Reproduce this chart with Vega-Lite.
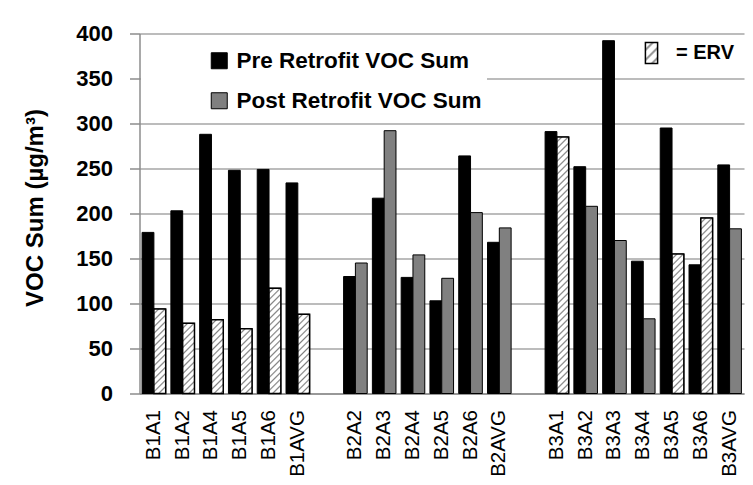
{
  "$schema": "https://vega.github.io/schema/vega-lite/v6.json",
  "width": 604.5,
  "height": 360,
  "autosize": {"type": "none"},
  "padding": {"left": 139.5, "top": 33.5, "right": 9, "bottom": 91.5},
  "background": "white",
  "params": [
    {"name": "hstops", "value": [
      {"offset":0,"color":"#fff"},
      {"offset":0.01,"color":"#fff"},{"offset":0.015,"color":"#808080"},{"offset":0.02,"color":"#fff"},
      {"offset":0.03,"color":"#fff"},{"offset":0.035,"color":"#808080"},{"offset":0.04,"color":"#fff"},
      {"offset":0.05,"color":"#fff"},{"offset":0.055,"color":"#808080"},{"offset":0.06,"color":"#fff"},
      {"offset":0.07,"color":"#fff"},{"offset":0.075,"color":"#808080"},{"offset":0.08,"color":"#fff"},
      {"offset":0.09,"color":"#fff"},{"offset":0.095,"color":"#808080"},{"offset":0.1,"color":"#fff"},
      {"offset":0.11,"color":"#fff"},{"offset":0.115,"color":"#808080"},{"offset":0.12,"color":"#fff"},
      {"offset":0.13,"color":"#fff"},{"offset":0.135,"color":"#808080"},{"offset":0.14,"color":"#fff"},
      {"offset":0.15,"color":"#fff"},{"offset":0.155,"color":"#808080"},{"offset":0.16,"color":"#fff"},
      {"offset":0.17,"color":"#fff"},{"offset":0.175,"color":"#808080"},{"offset":0.18,"color":"#fff"},
      {"offset":0.19,"color":"#fff"},{"offset":0.195,"color":"#808080"},{"offset":0.2,"color":"#fff"},
      {"offset":0.21,"color":"#fff"},{"offset":0.215,"color":"#808080"},{"offset":0.22,"color":"#fff"},
      {"offset":0.23,"color":"#fff"},{"offset":0.235,"color":"#808080"},{"offset":0.24,"color":"#fff"},
      {"offset":0.25,"color":"#fff"},{"offset":0.255,"color":"#808080"},{"offset":0.26,"color":"#fff"},
      {"offset":0.27,"color":"#fff"},{"offset":0.275,"color":"#808080"},{"offset":0.28,"color":"#fff"},
      {"offset":0.29,"color":"#fff"},{"offset":0.295,"color":"#808080"},{"offset":0.3,"color":"#fff"},
      {"offset":0.31,"color":"#fff"},{"offset":0.315,"color":"#808080"},{"offset":0.32,"color":"#fff"},
      {"offset":0.33,"color":"#fff"},{"offset":0.335,"color":"#808080"},{"offset":0.34,"color":"#fff"},
      {"offset":0.35,"color":"#fff"},{"offset":0.355,"color":"#808080"},{"offset":0.36,"color":"#fff"},
      {"offset":0.37,"color":"#fff"},{"offset":0.375,"color":"#808080"},{"offset":0.38,"color":"#fff"},
      {"offset":0.39,"color":"#fff"},{"offset":0.395,"color":"#808080"},{"offset":0.4,"color":"#fff"},
      {"offset":0.41,"color":"#fff"},{"offset":0.415,"color":"#808080"},{"offset":0.42,"color":"#fff"},
      {"offset":0.43,"color":"#fff"},{"offset":0.435,"color":"#808080"},{"offset":0.44,"color":"#fff"},
      {"offset":0.45,"color":"#fff"},{"offset":0.455,"color":"#808080"},{"offset":0.46,"color":"#fff"},
      {"offset":0.47,"color":"#fff"},{"offset":0.475,"color":"#808080"},{"offset":0.48,"color":"#fff"},
      {"offset":0.49,"color":"#fff"},{"offset":0.495,"color":"#808080"},{"offset":0.5,"color":"#fff"},
      {"offset":0.51,"color":"#fff"},{"offset":0.515,"color":"#808080"},{"offset":0.52,"color":"#fff"},
      {"offset":0.53,"color":"#fff"},{"offset":0.535,"color":"#808080"},{"offset":0.54,"color":"#fff"},
      {"offset":0.55,"color":"#fff"},{"offset":0.555,"color":"#808080"},{"offset":0.56,"color":"#fff"},
      {"offset":0.57,"color":"#fff"},{"offset":0.575,"color":"#808080"},{"offset":0.58,"color":"#fff"},
      {"offset":0.59,"color":"#fff"},{"offset":0.595,"color":"#808080"},{"offset":0.6,"color":"#fff"},
      {"offset":0.61,"color":"#fff"},{"offset":0.615,"color":"#808080"},{"offset":0.62,"color":"#fff"},
      {"offset":0.63,"color":"#fff"},{"offset":0.635,"color":"#808080"},{"offset":0.64,"color":"#fff"},
      {"offset":0.65,"color":"#fff"},{"offset":0.655,"color":"#808080"},{"offset":0.66,"color":"#fff"},
      {"offset":0.67,"color":"#fff"},{"offset":0.675,"color":"#808080"},{"offset":0.68,"color":"#fff"},
      {"offset":0.69,"color":"#fff"},{"offset":0.695,"color":"#808080"},{"offset":0.7,"color":"#fff"},
      {"offset":0.71,"color":"#fff"},{"offset":0.715,"color":"#808080"},{"offset":0.72,"color":"#fff"},
      {"offset":0.73,"color":"#fff"},{"offset":0.735,"color":"#808080"},{"offset":0.74,"color":"#fff"},
      {"offset":0.75,"color":"#fff"},{"offset":0.755,"color":"#808080"},{"offset":0.76,"color":"#fff"},
      {"offset":0.77,"color":"#fff"},{"offset":0.775,"color":"#808080"},{"offset":0.78,"color":"#fff"},
      {"offset":0.79,"color":"#fff"},{"offset":0.795,"color":"#808080"},{"offset":0.8,"color":"#fff"},
      {"offset":0.81,"color":"#fff"},{"offset":0.815,"color":"#808080"},{"offset":0.82,"color":"#fff"},
      {"offset":0.83,"color":"#fff"},{"offset":0.835,"color":"#808080"},{"offset":0.84,"color":"#fff"},
      {"offset":0.85,"color":"#fff"},{"offset":0.855,"color":"#808080"},{"offset":0.86,"color":"#fff"},
      {"offset":0.87,"color":"#fff"},{"offset":0.875,"color":"#808080"},{"offset":0.88,"color":"#fff"},
      {"offset":0.89,"color":"#fff"},{"offset":0.895,"color":"#808080"},{"offset":0.9,"color":"#fff"}
    ]},
    {"name": "iconGrad", "expr": "{gradient: 'linear', x1: 0, y1: 0, x2: 10.34, y2: 17.8, stops: hstops}"}
  ],
  "data": {"values": [
    {"cat":"B1A1","series":"Pre Retrofit VOC Sum","voc":179,"erv":false},
    {"cat":"B1A1","series":"Post Retrofit VOC Sum","voc":94,"erv":true},
    {"cat":"B1A2","series":"Pre Retrofit VOC Sum","voc":203,"erv":false},
    {"cat":"B1A2","series":"Post Retrofit VOC Sum","voc":78,"erv":true},
    {"cat":"B1A4","series":"Pre Retrofit VOC Sum","voc":288,"erv":false},
    {"cat":"B1A4","series":"Post Retrofit VOC Sum","voc":82,"erv":true},
    {"cat":"B1A5","series":"Pre Retrofit VOC Sum","voc":248,"erv":false},
    {"cat":"B1A5","series":"Post Retrofit VOC Sum","voc":72,"erv":true},
    {"cat":"B1A6","series":"Pre Retrofit VOC Sum","voc":249,"erv":false},
    {"cat":"B1A6","series":"Post Retrofit VOC Sum","voc":117,"erv":true},
    {"cat":"B1AVG","series":"Pre Retrofit VOC Sum","voc":234,"erv":false},
    {"cat":"B1AVG","series":"Post Retrofit VOC Sum","voc":88,"erv":true},
    {"cat":"B2A2","series":"Pre Retrofit VOC Sum","voc":130,"erv":false},
    {"cat":"B2A2","series":"Post Retrofit VOC Sum","voc":145,"erv":false},
    {"cat":"B2A3","series":"Pre Retrofit VOC Sum","voc":217,"erv":false},
    {"cat":"B2A3","series":"Post Retrofit VOC Sum","voc":292,"erv":false},
    {"cat":"B2A4","series":"Pre Retrofit VOC Sum","voc":129,"erv":false},
    {"cat":"B2A4","series":"Post Retrofit VOC Sum","voc":154,"erv":false},
    {"cat":"B2A5","series":"Pre Retrofit VOC Sum","voc":103,"erv":false},
    {"cat":"B2A5","series":"Post Retrofit VOC Sum","voc":128,"erv":false},
    {"cat":"B2A6","series":"Pre Retrofit VOC Sum","voc":264,"erv":false},
    {"cat":"B2A6","series":"Post Retrofit VOC Sum","voc":201,"erv":false},
    {"cat":"B2AVG","series":"Pre Retrofit VOC Sum","voc":168,"erv":false},
    {"cat":"B2AVG","series":"Post Retrofit VOC Sum","voc":184,"erv":false},
    {"cat":"B3A1","series":"Pre Retrofit VOC Sum","voc":291,"erv":false},
    {"cat":"B3A1","series":"Post Retrofit VOC Sum","voc":285,"erv":true},
    {"cat":"B3A2","series":"Pre Retrofit VOC Sum","voc":252,"erv":false},
    {"cat":"B3A2","series":"Post Retrofit VOC Sum","voc":208,"erv":false},
    {"cat":"B3A3","series":"Pre Retrofit VOC Sum","voc":392,"erv":false},
    {"cat":"B3A3","series":"Post Retrofit VOC Sum","voc":170,"erv":false},
    {"cat":"B3A4","series":"Pre Retrofit VOC Sum","voc":147,"erv":false},
    {"cat":"B3A4","series":"Post Retrofit VOC Sum","voc":83,"erv":false},
    {"cat":"B3A5","series":"Pre Retrofit VOC Sum","voc":295,"erv":false},
    {"cat":"B3A5","series":"Post Retrofit VOC Sum","voc":155,"erv":true},
    {"cat":"B3A6","series":"Pre Retrofit VOC Sum","voc":143,"erv":false},
    {"cat":"B3A6","series":"Post Retrofit VOC Sum","voc":195,"erv":true},
    {"cat":"B3AVG","series":"Pre Retrofit VOC Sum","voc":254,"erv":false},
    {"cat":"B3AVG","series":"Post Retrofit VOC Sum","voc":183,"erv":false}
  ]},
  "encoding": {
    "x": {
      "field": "cat", "type": "nominal",
      "scale": {
        "domain": ["B1A1","B1A2","B1A4","B1A5","B1A6","B1AVG","g1","B2A2","B2A3","B2A4","B2A5","B2A6","B2AVG","g2","B3A1","B3A2","B3A3","B3A4","B3A5","B3A6","B3AVG"],
        "paddingInner": 0.18, "paddingOuter": 0.09
      },
      "axis": {
        "title": null,
        "labelAngle": -90,
        "labelFontSize": 20.5,
        "labelFontWeight": "normal",
        "labelColor": "black",
        "labelPadding": 16,
        "ticks": false,
        "tickSize": 0,
        "domainColor": "#8c8c8c",
        "domainWidth": 1.5,
        "grid": false,
        "labelExpr": "datum.label == 'g1' || datum.label == 'g2' ? '' : datum.label"
      }
    },
    "xOffset": {
      "field": "series", "type": "nominal",
      "scale": {"domain": ["Pre Retrofit VOC Sum","Post Retrofit VOC Sum"], "paddingInner": 0, "paddingOuter": 0}
    },
    "y": {
      "field": "voc", "type": "quantitative",
      "scale": {"domain": [0, 400], "nice": false},
      "axis": {
        "title": "VOC Sum (µg/m³)",
        "values": [0,50,100,150,200,250,300,350,400],
        "labelFontSize": 22,
        "labelFontWeight": "bold",
        "labelColor": "black",
        "labelPadding": 17,
        "tickSize": 10,
        "tickColor": "#8c8c8c",
        "tickWidth": 1.5,
        "domainColor": "#8c8c8c",
        "domainWidth": 1.5,
        "grid": true,
        "gridColor": "#a6a6a6",
        "gridWidth": 1.5,
        "titleFontSize": 24,
        "titleFontWeight": "bold",
        "titleColor": "black",
        "titlePadding": 28,
        "titleY": 174
      }
    }
  },
  "layer": [
    {
      "mark": {"type": "bar", "stroke": "black", "strokeWidth": 1},
      "encoding": {
        "color": {
          "field": "series", "type": "nominal",
          "scale": {"domain": ["Pre Retrofit VOC Sum","Post Retrofit VOC Sum"], "range": ["#000000","#808080"]},
          "legend": {
            "title": null,
            "orient": "none",
            "legendX": 1.5,
            "legendY": 11,
            "direction": "vertical",
            "symbolType": "square",
            "symbolSize": 256,
            "symbolOffset": 62,
            "symbolStrokeColor": "black",
            "symbolStrokeWidth": 1,
            "labelFontSize": 22.5,
            "labelFontWeight": "bold",
            "labelColor": "black",
            "labelOffset": 6,
            "labelLimit": 400,
            "rowPadding": 17,
            "padding": 5,
            "fillColor": "white"
          }
        }
      }
    },
    {
      "transform": [{"filter": "datum.erv"}],
      "mark": {
        "type": "bar",
        "strokeWidth": 1.5,
        "fill": {"expr": "isNumber(datum.voc) ? {gradient: 'linear', x1: 0, y1: 0, x2: 325*bandwidth('xOffset')/(pow(bandwidth('xOffset'),2)+pow(scale('y',0)-scale('y',datum.voc),2)), y2: 325*(scale('y',0)-scale('y',datum.voc))/(pow(bandwidth('xOffset'),2)+pow(scale('y',0)-scale('y',datum.voc),2)), stops: hstops} : iconGrad"}
      },
      "encoding": {
        "stroke": {
          "datum": "= ERV", "type": "nominal",
          "scale": {"range": ["black"]},
          "legend": {
            "title": null,
            "orient": "none",
            "legendX": 500.5,
            "legendY": 8,
            "symbolType": "M-0.58,-1H0.58V1H-0.58Z",
            "symbolSize": 441,
            "symbolStrokeWidth": 1.5,
            "symbolFillColor": {"expr": "iconGrad"},
            "labelFontSize": 20,
            "labelFontWeight": "bold",
            "labelColor": "black",
            "labelOffset": 13,
            "padding": 0
          }
        }
      }
    }
  ],
  "config": {
    "font": "Liberation Sans",
    "view": {"stroke": null},
    "axis": {"labelFont": "Liberation Sans", "titleFont": "Liberation Sans"},
    "legend": {"labelFont": "Liberation Sans"}
  }
}
